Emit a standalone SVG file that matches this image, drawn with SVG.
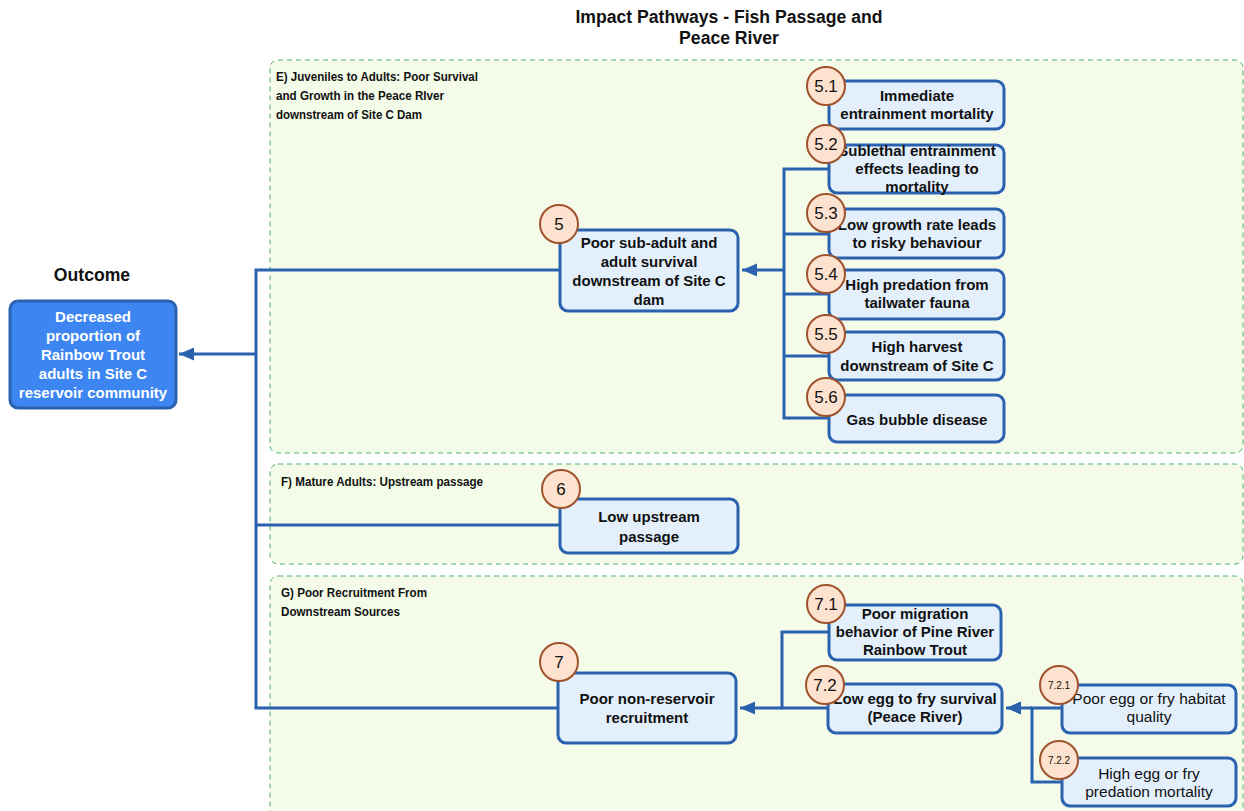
<svg xmlns="http://www.w3.org/2000/svg" width="1244" height="811" viewBox="0 0 1244 811">
<defs>
<style>
.grp{fill:#f4fce9;stroke:#4caf63;stroke-width:1;stroke-dasharray:5 4}
.gt{font-family:"Liberation Sans",Arial,sans-serif;font-size:13px;font-weight:bold;fill:#111}
.nd{fill:#e3f0fc;stroke:#2a62b0;stroke-width:3}
.nt{font-family:"Liberation Sans",Arial,sans-serif;font-size:15px;font-weight:bold;fill:#111;text-anchor:middle}
.nn{font-family:"Liberation Sans",Arial,sans-serif;font-size:15.5px;fill:#111;text-anchor:middle}
.cc{fill:#fde2cf;stroke:#a0522d;stroke-width:2}
.ct{font-family:"Liberation Sans",Arial,sans-serif;font-size:17px;fill:#111;text-anchor:middle}
.cs{font-family:"Liberation Sans",Arial,sans-serif;font-size:10px;fill:#111;text-anchor:middle}
.ln{fill:none;stroke:#2a62b0;stroke-width:3}
.ttl{font-family:"Liberation Sans",Arial,sans-serif;font-size:17.6px;font-weight:bold;fill:#111;text-anchor:middle}
.wt{fill:#fff}
</style>
<marker id="ah" markerWidth="6" markerHeight="5" refX="5" refY="2.2" orient="auto" markerUnits="strokeWidth">
<path d="M0,0 L5,2.2 L0,4.4 z" fill="#2a62b0"/>
</marker>
</defs>
<rect width="1244" height="811" fill="#ffffff"/>
<g id="title">
<text class="ttl" x="729" y="23">Impact Pathways - Fish Passage and</text>
<text class="ttl" x="729" y="44">Peace River</text>
</g>
<g id="groupE">
<rect class="grp" x="270" y="60" width="973" height="393" rx="8"/>
<text class="gt" x="276" y="81" textLength="202" lengthAdjust="spacingAndGlyphs">E) Juveniles to Adults: Poor Survival</text>
<text class="gt" x="276" y="100" textLength="168" lengthAdjust="spacingAndGlyphs">and Growth in the Peace RIver</text>
<text class="gt" x="276" y="119" textLength="146" lengthAdjust="spacingAndGlyphs">downstream of Site C Dam</text>
</g>
<g id="groupF">
<rect class="grp" x="270" y="464" width="973" height="100" rx="8"/>
<text class="gt" x="281" y="486" textLength="202" lengthAdjust="spacingAndGlyphs">F) Mature Adults: Upstream passage</text>
</g>
<g id="groupG">
<rect class="grp" x="270" y="576" width="973" height="245" rx="8"/>
<text class="gt" x="281" y="597" textLength="146" lengthAdjust="spacingAndGlyphs">G) Poor Recruitment From</text>
<text class="gt" x="281" y="616" textLength="119" lengthAdjust="spacingAndGlyphs">Downstream Sources</text>
</g>
<g id="connectors">
<path class="ln" d="M829,169 H784 V418 H829 M784,234 H829 M784,294 H829 M784,356 H829"/>
<path class="ln" d="M784,270 H742" marker-end="url(#ah)"/>
<path class="ln" d="M560,270 H256 V708 H558 M256,525 H560"/>
<path class="ln" d="M256,354 H179" marker-end="url(#ah)"/>
<path class="ln" d="M829,632 H782 V708 H828"/>
<path class="ln" d="M782,708 H740" marker-end="url(#ah)"/>
<path class="ln" d="M1062,708 H1032 V782 H1062"/>
<path class="ln" d="M1032,708 H1006" marker-end="url(#ah)"/>
</g>
<g id="outcome">
<text class="ttl" x="92" y="281">Outcome</text>
<rect x="10" y="301" width="166" height="107" rx="8" fill="#3d86f2" stroke="#2a62b0" stroke-width="3"/>
<text class="nt wt" x="93" y="322">Decreased</text>
<text class="nt wt" x="93" y="341">proportion of</text>
<text class="nt wt" x="93" y="360">Rainbow Trout</text>
<text class="nt wt" x="93" y="379">adults in Site C</text>
<text class="nt wt" x="93" y="398">reservoir community</text>
</g>
<g id="n5">
<rect class="nd" x="560" y="230" width="178" height="81" rx="8"/>
<text class="nt" x="649" y="248">Poor sub-adult and</text>
<text class="nt" x="649" y="267">adult survival</text>
<text class="nt" x="649" y="286">downstream of Site C</text>
<text class="nt" x="649" y="305">dam</text>
<circle class="cc" cx="559" cy="224" r="19"/>
<text class="ct" x="559" y="230">5</text>
</g>
<g id="n5_1">
<rect class="nd" x="829" y="81" width="175" height="48" rx="8"/>
<text class="nt" x="917" y="101">Immediate</text>
<text class="nt" x="917" y="119">entrainment mortality</text>
<circle class="cc" cx="826" cy="86" r="19"/>
<text class="ct" x="826" y="92">5.1</text>
</g>
<g id="n5_2">
<rect class="nd" x="829" y="145" width="175" height="48" rx="8"/>
<text class="nt" x="917" y="156">Sublethal entrainment</text>
<text class="nt" x="917" y="174">effects leading to</text>
<text class="nt" x="917" y="192">mortality</text>
<circle class="cc" cx="826" cy="144" r="19"/>
<text class="ct" x="826" y="150">5.2</text>
</g>
<g id="n5_3">
<rect class="nd" x="829" y="209" width="175" height="49" rx="8"/>
<text class="nt" x="917" y="230">Low growth rate leads</text>
<text class="nt" x="917" y="248">to risky behaviour</text>
<circle class="cc" cx="826" cy="213" r="19"/>
<text class="ct" x="826" y="219">5.3</text>
</g>
<g id="n5_4">
<rect class="nd" x="829" y="270" width="175" height="49" rx="8"/>
<text class="nt" x="917" y="290">High predation from</text>
<text class="nt" x="917" y="308">tailwater fauna</text>
<circle class="cc" cx="826" cy="274" r="19"/>
<text class="ct" x="826" y="280">5.4</text>
</g>
<g id="n5_5">
<rect class="nd" x="829" y="332" width="175" height="48" rx="8"/>
<text class="nt" x="917" y="352">High harvest</text>
<text class="nt" x="917" y="371">downstream of Site C</text>
<circle class="cc" cx="826" cy="334" r="19"/>
<text class="ct" x="826" y="340">5.5</text>
</g>
<g id="n5_6">
<rect class="nd" x="829" y="395" width="175" height="47" rx="8"/>
<text class="nt" x="917" y="425">Gas bubble disease</text>
<circle class="cc" cx="826" cy="397" r="19"/>
<text class="ct" x="826" y="403">5.6</text>
</g>
<g id="n6">
<rect class="nd" x="560" y="499" width="178" height="54" rx="8"/>
<text class="nt" x="649" y="522">Low upstream</text>
<text class="nt" x="649" y="542">passage</text>
<circle class="cc" cx="561" cy="489" r="19"/>
<text class="ct" x="561" y="495">6</text>
</g>
<g id="n7">
<rect class="nd" x="558" y="673" width="178" height="70" rx="8"/>
<text class="nt" x="647" y="704">Poor non-reservoir</text>
<text class="nt" x="647" y="723">recruitment</text>
<circle class="cc" cx="559" cy="662" r="19"/>
<text class="ct" x="559" y="668">7</text>
</g>
<g id="n7_1">
<rect class="nd" x="829" y="605" width="172" height="55" rx="8"/>
<text class="nt" x="915" y="619">Poor migration</text>
<text class="nt" x="915" y="637">behavior of Pine River</text>
<text class="nt" x="915" y="655">Rainbow Trout</text>
<circle class="cc" cx="826" cy="604" r="19"/>
<text class="ct" x="826" y="610">7.1</text>
</g>
<g id="n7_2">
<rect class="nd" x="828" y="684" width="174" height="49" rx="8"/>
<text class="nt" x="915" y="704">Low egg to fry survival</text>
<text class="nt" x="915" y="722">(Peace River)</text>
<circle class="cc" cx="825" cy="685" r="19"/>
<text class="ct" x="825" y="691">7.2</text>
</g>
<g id="n7_2_1">
<rect class="nd" x="1062" y="685" width="174" height="48" rx="8"/>
<text class="nn" x="1149" y="704">Poor egg or fry habitat</text>
<text class="nn" x="1149" y="722">quality</text>
<circle class="cc" cx="1059" cy="685" r="19"/>
<text class="cs" x="1059" y="689">7.2.1</text>
</g>
<g id="n7_2_2">
<rect class="nd" x="1062" y="758" width="174" height="48" rx="8"/>
<text class="nn" x="1149" y="779">High egg or fry</text>
<text class="nn" x="1149" y="797">predation mortality</text>
<circle class="cc" cx="1059" cy="760" r="19"/>
<text class="cs" x="1059" y="764">7.2.2</text>
</g>
</svg>
